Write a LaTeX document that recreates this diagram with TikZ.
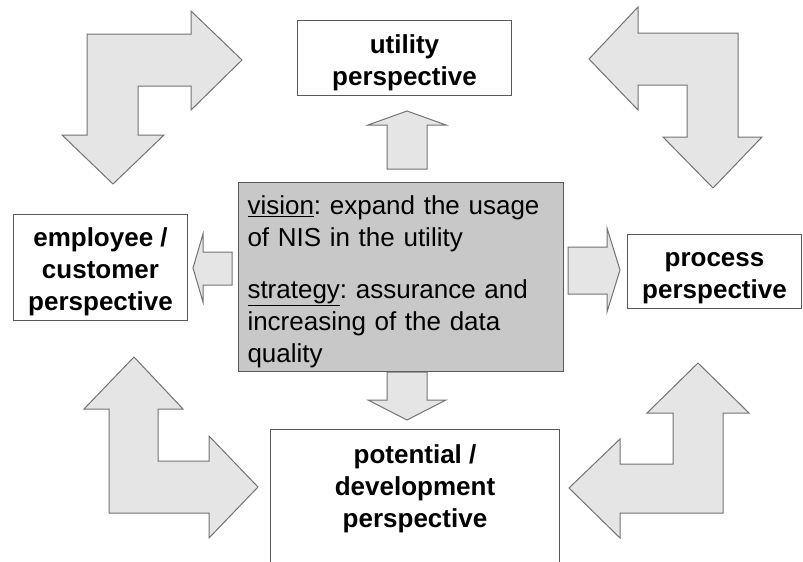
\documentclass[tikz,border=0pt]{standalone}
\usepackage{fontspec}
\setmainfont{Liberation Sans}
\frenchspacing
\definecolor{arrowfill}{gray}{0.9}
\definecolor{arrowedge}{gray}{0.45}
\definecolor{boxedge}{gray}{0.35}
\definecolor{corefill}{gray}{0.785}
\newcommand{\firststrut}{\rule{0pt}{28pt}}
\tikzset{
  bigarrow/.style={fill=arrowfill, draw=arrowedge, line width=1pt, line join=miter},
  persp/.style={draw=boxedge, fill=white, line width=1pt, inner sep=0pt, align=center,
    font=\fontsize{26}{32}\selectfont\bfseries},
  core/.style={draw=boxedge, fill=corefill, line width=1pt, inner sep=0pt, align=left,
    font=\fontsize{26}{32}\selectfont}
}
\begin{document}
\begin{tikzpicture}[x=1pt, y=-1pt]
\clip (0,0) rectangle (803,562);
\fill[white] (0,0) rectangle (803,562);

% corner arrows
\draw[bigarrow] (87,34) -- (191,34) -- (191,11) -- (242,60) -- (191,110) -- (191,86)
  -- (138,86) -- (138,135) -- (164,135) -- (113,184) -- (62,135) -- (87,135) -- cycle;
\draw[bigarrow] (738,33) -- (638,33) -- (638,7) -- (589,59) -- (638,110) -- (638,85)
  -- (687,85) -- (687,137) -- (663,137) -- (713,188) -- (762,137) -- (738,137) -- cycle;
\draw[bigarrow] (109,513) -- (209,513) -- (209,538) -- (258,487) -- (209,436) -- (209,461)
  -- (158,461) -- (158,409) -- (183,409) -- (134,357) -- (84,409) -- (109,409) -- cycle;
\draw[bigarrow] (723,513) -- (620,513) -- (620,538) -- (569,488) -- (620,439) -- (620,464)
  -- (673,464) -- (673,413) -- (647,413) -- (698,363) -- (749,413) -- (723,413) -- cycle;

% boxes
\node[persp, anchor=north west, minimum width=214pt, minimum height=75pt] (utility) at (297,20)
  {\firststrut utility\\perspective};
\node[persp, anchor=north west, minimum width=174pt, minimum height=106pt] (employee) at (13,214)
  {\firststrut employee /\\customer\\perspective};
\node[persp, anchor=north west, minimum width=174pt, minimum height=74pt] (process) at (627,234)
  {\firststrut process\\perspective};
\node[persp, anchor=north west, minimum width=289pt, inner ysep=15pt] (potential) at (270,429)
  {potential /\\development\\perspective\rule[-90pt]{0pt}{0pt}};
\node[core, anchor=north west, minimum width=325pt, minimum height=189pt, text width=307pt] (vision) at (238,182)
  {\firststrut\underline{vision}: expand the usage\\of NIS in the utility\\[20pt]
   \underline{strategy}: assurance and\\increasing of the data\\quality};

% small arrows
\draw[bigarrow] (387,169) -- (387,125) -- (368,125) -- (407,111) -- (446,125) -- (427,125) -- (427,169) -- cycle;
\draw[bigarrow] (387,372) -- (387,400) -- (368,400) -- (407,420) -- (446,400) -- (427,400) -- (427,372) -- cycle;
\draw[bigarrow] (232,252) -- (203,252) -- (203,234) -- (193,268) -- (203,302) -- (203,285) -- (232,285) -- cycle;
\draw[bigarrow] (568,247) -- (607,247) -- (607,228) -- (620,270) -- (607,312) -- (607,294) -- (568,294) -- cycle;

\end{tikzpicture}
\end{document}
